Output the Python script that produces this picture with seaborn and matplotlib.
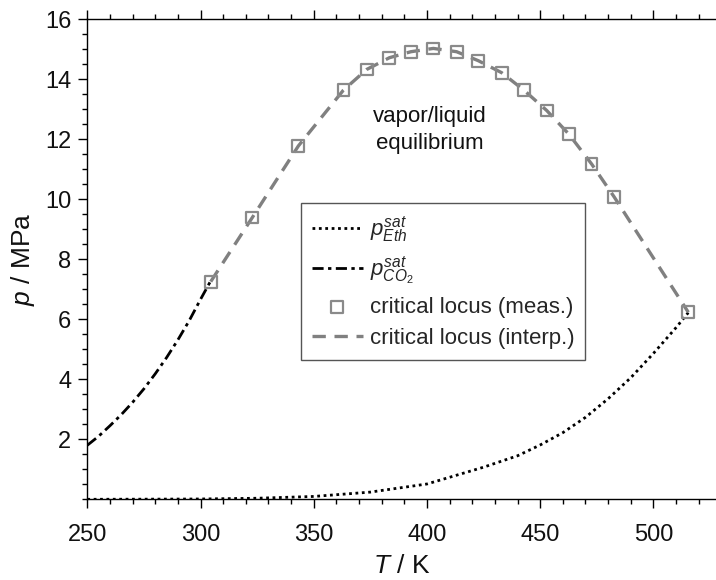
import numpy as np
import pandas as pd
import matplotlib
matplotlib.use("Agg")
import matplotlib.pyplot as plt
import seaborn as sns
from matplotlib.ticker import MultipleLocator, FixedLocator

# ---- data ----
T_eth = [250, 275, 300, 325, 350, 375, 400, 425, 440, 450, 460, 470, 480, 490, 500, 510, 515.4]
p_eth = [0.0, 0.004, 0.010, 0.035, 0.095, 0.24, 0.51, 1.07, 1.45, 1.81, 2.22, 2.73, 3.35, 4.05, 4.86, 5.72, 6.22]

T_co2 = [250, 255, 260, 265, 270, 275, 280, 285, 290, 295, 300, 304.3]
p_co2 = [1.80, 2.10, 2.45, 2.82, 3.23, 3.68, 4.18, 4.72, 5.31, 5.95, 6.66, 7.25]

T_meas = [304.5, 322.9, 343.2, 363.1, 373.4, 383.4, 392.9, 402.8, 413.1, 422.7,
          433.0, 442.8, 452.9, 462.7, 472.7, 482.6, 515.4]
p_meas = [7.25, 9.39, 11.77, 13.63, 14.32, 14.71, 14.91, 15.02, 14.91, 14.61,
          14.21, 13.63, 12.95, 12.16, 11.17, 10.08, 6.23]

x_ticks = [250, 300, 350, 400, 450, 500]
y_ticks = [2, 4, 6, 8, 10, 12, 14, 16]

sns.set_theme(style="ticks")
plt.rcParams['font.family'] = ['Liberation Sans', 'DejaVu Sans']
plt.rcParams['mathtext.fontset'] = 'custom'
plt.rcParams['mathtext.rm'] = 'Liberation Sans'
plt.rcParams['mathtext.it'] = 'Liberation Sans:italic'
plt.rcParams['mathtext.bf'] = 'Liberation Sans:bold'

fig = plt.figure(figsize=(7.16, 5.80), dpi=100)
ax = fig.add_axes([87.3/716, 1 - 499.3/580, (716 - 87.3)/716, (499.3 - 19)/580])

df_eth = pd.DataFrame({"T": T_eth, "p": p_eth})
df_co2 = pd.DataFrame({"T": T_co2, "p": p_co2})
df_meas = pd.DataFrame({"T": T_meas, "p": p_meas})

gray = "#808080"

sns.lineplot(data=df_eth, x="T", y="p", ax=ax, color="black", lw=2.0,
             dashes=False, sort=False, label=r"$p^{sat}_{Eth}$")
ax.lines[-1].set_dashes((1.0, 1.3))
sns.lineplot(data=df_co2, x="T", y="p", ax=ax, color="black", lw=2.0,
             sort=False, label=r"$p^{sat}_{CO_2}$")
ax.lines[-1].set_dashes((4, 1.6, 1.2, 1.6))
sns.lineplot(data=df_meas, x="T", y="p", ax=ax, color=gray, lw=2.4,
             sort=False, label="critical locus (interp.)", zorder=2)
ax.lines[-1].set_dashes((4, 2.6))
sns.scatterplot(data=df_meas, x="T", y="p", ax=ax, marker="s", s=72,
                facecolors="none", edgecolors="#8a8a8a", linewidths=1.6,
                label="critical locus (meas.)", zorder=3)

ax.set_xlim(250, 250 + (716 - 87.3) / 2.2645)
ax.set_ylim(0, 16)

ax.xaxis.set_major_locator(FixedLocator(x_ticks))
ax.xaxis.set_minor_locator(MultipleLocator(10))
ax.yaxis.set_major_locator(FixedLocator(y_ticks))
ax.yaxis.set_minor_locator(MultipleLocator(0.5))

ax.tick_params(axis='both', which='major', direction='out', length=6.5, width=1.0,
               labelsize=17, color='black', labelcolor='#111111')
ax.tick_params(axis='both', which='minor', direction='out', length=3.3, width=1.0,
               color='black')
ax.tick_params(axis='x', which='both', top=True, bottom=True, pad=11)
ax.tick_params(axis='y', which='major', pad=5)

for side in ['left', 'bottom', 'top']:
    ax.spines[side].set_visible(True)
    ax.spines[side].set_linewidth(1.0)
    ax.spines[side].set_color('black')
ax.spines['right'].set_visible(False)

ax.set_xlabel(r"$T$ / K", fontsize=19, labelpad=6, color='#111111')
ax.set_ylabel(r"$p$ / MPa", fontsize=19, labelpad=6, color='#111111')

ax.text(401.3, 12.3, "vapor/liquid\nequilibrium", ha='center', va='center',
        fontsize=16, linespacing=1.35, color='#111111')

handles, labels = ax.get_legend_handles_labels()
order = [labels.index(r"$p^{sat}_{Eth}$"), labels.index(r"$p^{sat}_{CO_2}$"),
         labels.index("critical locus (meas.)"), labels.index("critical locus (interp.)")]
leg = ax.legend([handles[i] for i in order], [labels[i] for i in order],
                loc='upper left', bbox_to_anchor=(0.3394, 0.6163), borderaxespad=0,
                fontsize=16, frameon=True, fancybox=False, edgecolor='#555555',
                framealpha=1, handlelength=2.3, handletextpad=0.3,
                labelspacing=0.45, borderpad=0.5)
leg.get_frame().set_linewidth(1.0)

fig.savefig("out.png", dpi=100)
